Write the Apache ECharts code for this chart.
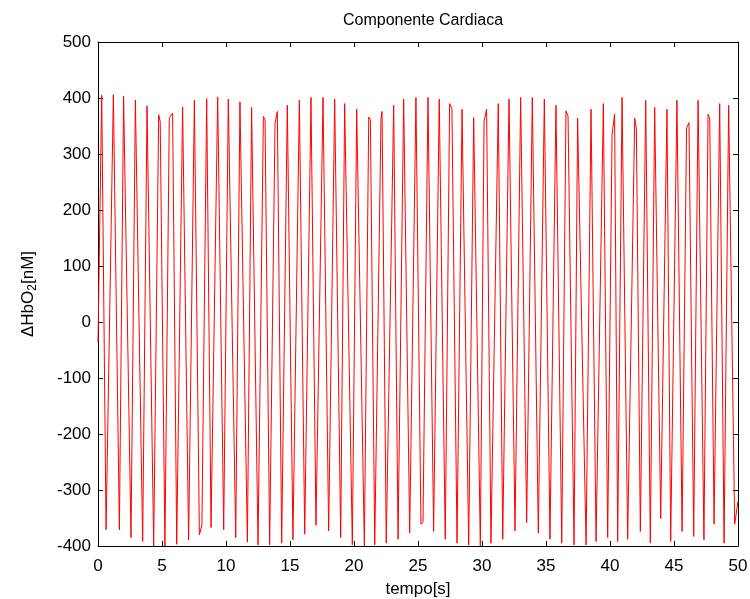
<!DOCTYPE html>
<html>
<head>
<meta charset="utf-8">
<script src="https://cdn.jsdelivr.net/npm/echarts@6/dist/echarts.min.js"></script>
<style>
html,body{margin:0;padding:0;background:#fff;}
#chart{width:750px;height:599px;}
</style>
</head>
<body>
<div id="chart"></div>
<script>
// Extremes and kinks of the trace
var times = [0,0.29,0.63,1.20,1.67,2.00,2.58,2.92,3.49,3.83,4.35,4.74,4.86,5.23,5.57,5.83,6.15,6.61,7.08,7.53,7.92,8.12,8.49,8.83,9.35,9.82,10.18,10.76,11.09,11.67,12.00,12.50,12.92,13.05,13.41,13.83,14.01,14.35,14.79,15.23,15.73,16.15,16.64,17.03,17.16,17.58,18.02,18.49,18.96,19.27,19.87,20.21,20.81,21.15,21.28,21.62,22.11,22.19,22.52,23.10,23.44,23.88,24.35,24.84,25.23,25.39,25.78,26.22,26.66,27.13,27.47,27.65,28.05,28.44,28.96,29.35,29.48,29.87,30.16,30.36,30.70,31.27,31.62,32.11,32.58,33.02,33.49,33.62,33.93,34.40,34.87,35.31,35.78,36.23,36.56,36.72,37.19,37.47,37.60,38.13,38.52,38.91,39.48,39.82,40.16,40.36,40.60,40.94,41.38,41.93,42.06,42.37,42.79,43.15,43.49,43.96,44.01,44.45,44.74,45.23,45.63,45.98,46.17,46.54,46.88,47.34,47.66,47.79,48.13,48.57,48.91,49.27,49.74,50.00];
var hbo2 = [-37,405,-371,406,-371,403,-385,396,-392,386,-400,370,358,-400,364,373,-397,384,-389,396,-380,-362,399,-367,402,-371,398,-385,393,-393,383,-398,367,361,-398,355,376,-395,387,-389,396,-379,401,-363,-360,401,-373,398,-385,390,-398,380,-400,366,361,-398,364,376,-395,387,-388,398,-377,401,-361,-358,401,-374,398,-388,390,381,-395,380,-398,365,362,-400,358,380,-395,390,-388,398,-373,401,-358,-361,401,-377,398,-388,387,-395,377,368,-398,364,367,-398,380,-392,390,-385,334,371,-392,401,-388,364,346,-374,396,-395,383,-351,-349,380,-392,396,-374,346,356,-383,396,-389,371,364,-361,390,-395,387,-361,-320];
var xTicks = {min:0, max:50, step:5};
var yTicks = {min:-400, max:500, step:100};

var FONT = 'Liberation Sans, Arial, sans-serif';
var pts = times.map(function(t,i){return [t, hbo2[i]];});
var chart = echarts.init(document.getElementById('chart'), null, {renderer:'canvas'});
var tickStyle = {show:true, inside:true, length:5, lineStyle:{color:'#000', width:1}};
var lineStyle = {show:true, onZero:false, lineStyle:{color:'#000', width:1}};
chart.setOption({
  animation:false,
  backgroundColor:'#fff',
  title:{text:'Componente Cardiaca', left:418, top:8, textAlign:'center',
    textStyle:{fontFamily:FONT, fontSize:16, fontWeight:'normal', color:'#000'}},
  grid:{left:98, top:42, right:12, bottom:53, containLabel:false, outerBoundsMode:'none'},
  xAxis:[{type:'value', min:xTicks.min, max:xTicks.max, interval:xTicks.step, position:'bottom',
    name:'tempo[s]', nameLocation:'middle', nameGap:35,
    nameTextStyle:{fontFamily:FONT, fontSize:17, color:'#000'},
    axisLine:lineStyle, axisTick:tickStyle, splitLine:{show:false},
    axisLabel:{fontFamily:FONT, fontSize:17, color:'#000', margin:12}},
    {type:'value', min:xTicks.min, max:xTicks.max, interval:xTicks.step, position:'top',
    axisLine:lineStyle, axisTick:tickStyle, splitLine:{show:false}, axisLabel:{show:false}}],
  yAxis:[{type:'value', min:yTicks.min, max:yTicks.max, interval:yTicks.step, position:'left',
    name:'{t|\u0394HbO}{s|2}{t|[nM]}', nameLocation:'middle', nameGap:59, nameRotate:90,
    nameTextStyle:{fontFamily:FONT, fontSize:17, color:'#000',
      rich:{t:{fontFamily:FONT, fontSize:17, color:'#000'},
            s:{fontFamily:FONT, fontSize:12, color:'#000', padding:[10,0,0,0]}}},
    axisLine:lineStyle, axisTick:tickStyle, splitLine:{show:false},
    axisLabel:{fontFamily:FONT, fontSize:17, color:'#000', margin:7}},
    {type:'value', min:yTicks.min, max:yTicks.max, interval:yTicks.step, position:'right',
    axisLine:lineStyle, axisTick:tickStyle, splitLine:{show:false}, axisLabel:{show:false}}],
  series:[{type:'line', data:pts, showSymbol:false, symbol:'none',
    lineStyle:{color:'#ff0000', width:1}, clip:true}]
});
</script>
</body>
</html>
